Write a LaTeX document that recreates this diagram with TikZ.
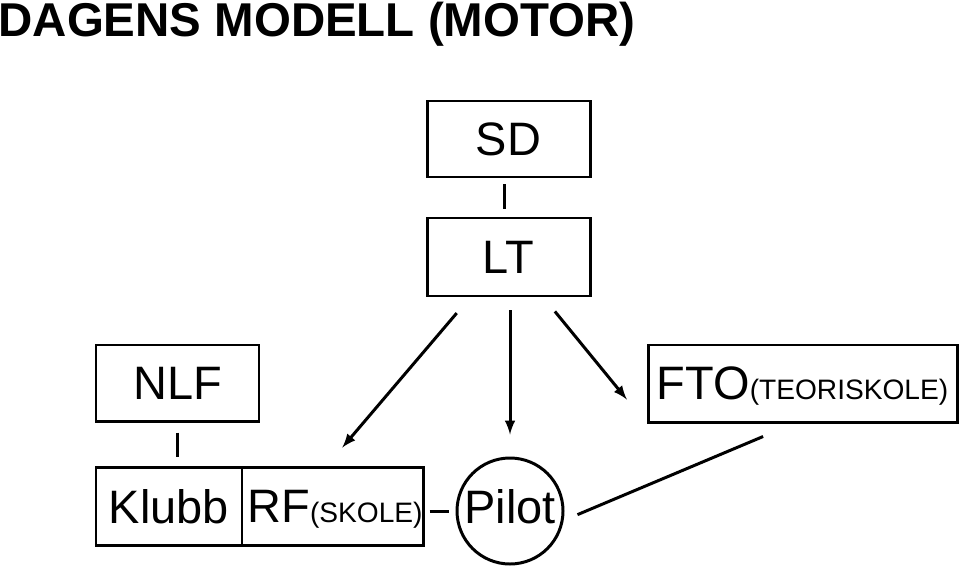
\documentclass[tikz,border=0pt]{standalone}
\usepackage{fontspec}
\setmainfont{Liberation Sans}
\usetikzlibrary{calc}
\tikzset{>=latex}
\tikzset{ box/.style={draw,line width=1.7pt,inner sep=0pt,text depth=0pt,font=\fontsize{26.7}{30}\selectfont} }
\newcommand{\smalltext}[1]{{\fontsize{16}{18}\selectfont #1}}

\begin{document}
\begin{tikzpicture}[line width=1.7pt]
  \useasboundingbox (0,0) rectangle (19.2,11.36);
  % title
  \node[anchor=base west,inner sep=0pt,font=\bfseries\fontsize{27}{30}\selectfont] (title) at (-0.06,10.64) {DAGENS MODELL (MOTOR)};
  % boxes
  \node[box,minimum width=3.26cm,minimum height=1.52cm] (sd) at (10.17,8.58) {SD};
  \node[box,minimum width=3.26cm,minimum height=1.56cm] (lt) at (10.17,6.22) {LT};
  \node[box,minimum width=3.26cm,minimum height=1.52cm] (nlf) at (3.55,3.70) {NLF};
  \node[box,minimum width=6.18cm,minimum height=1.54cm] (fto) at (16.05,3.69) {FTO\smalltext{(TEORISKOLE)}};
  \node[box,minimum width=2.92cm,minimum height=1.56cm] (klubb) at (3.38,1.24) {Klubb};
  \node[box,minimum width=3.62cm,minimum height=1.56cm] (rf) at (6.65,1.24) {\hspace*{0.1cm}RF\smalltext{(SKOLE)}};
  \node[box,circle,minimum size=2.12cm,text depth=0.2cm] (pilot) at (10.20,1.14) {Pilot};
  % links
  \draw[shorten <=0.12cm,shorten >=0.16cm] ([xshift=-0.09cm]sd.south) -- ([xshift=-0.09cm]lt.north);
  \draw[shorten <=0.2cm,shorten >=0.18cm] (nlf.south) -- (nlf.south |- klubb.north);
  \draw[shorten <=0.1cm,shorten >=0.14cm] (rf.east |- pilot.west) -- (pilot.west);
  \draw[shorten <=0.3cm,shorten >=0.67cm] (pilot.-10) -- ([xshift=-0.17cm]fto.south);
  % arrows
  \draw[->,shorten <=0.41cm,shorten >=0.47cm] ([xshift=-0.77cm]lt.south) -- ([xshift=-0.11cm]rf.north);
  \draw[->,shorten <=0.26cm,shorten >=0.44cm] (lt.south -| pilot.north) -- (pilot.north);
  \draw[->,shorten <=0.36cm,shorten >=0.62cm] ([xshift=0.7cm]lt.south) -- (fto.south west);
\end{tikzpicture}
\end{document}
